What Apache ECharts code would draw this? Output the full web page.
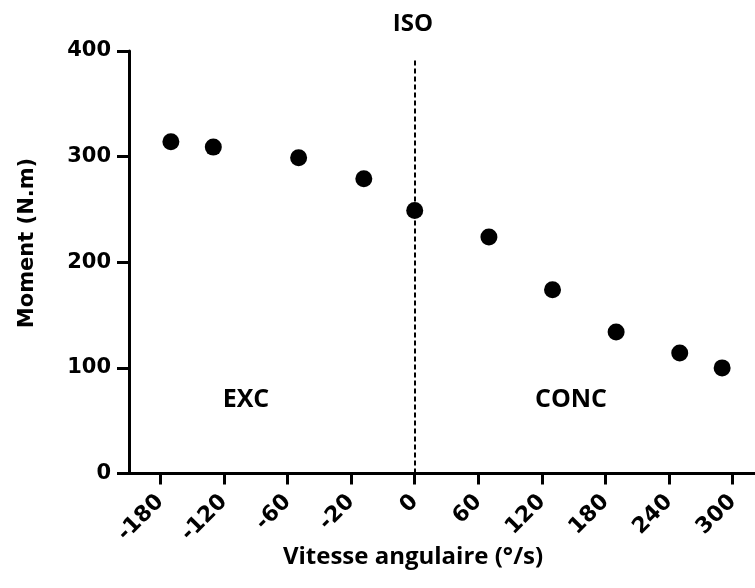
<!DOCTYPE html>
<html>
<head>
<meta charset="utf-8">
<script src="https://cdn.jsdelivr.net/npm/echarts@6/dist/echarts.min.js"></script>
<style>html,body{margin:0;padding:0;background:#fff}#c{width:755px;height:588px}</style>
</head>
<body>
<div id="c"></div>
<script>
// Tick labels of the (non-linear) velocity axis, equally spaced
const tickLabels = [-180, -120, -60, -20, 0, 60, 120, 180, 240, 300];
// Data
const velocity = [-170, -130, -53, -16, 0, 70, 130, 190, 250, 290];
const moment = [314, 309, 299, 279, 249, 224, 174, 134, 114, 100];

// Map a velocity onto the equally spaced tick index scale
function toAxis(v) {
  for (let i = 0; i < tickLabels.length - 1; i++) {
    const a = tickLabels[i], b = tickLabels[i + 1];
    if (v >= a && v <= b) return i + (v - a) / (b - a);
  }
  return v < tickLabels[0] ? 0 : tickLabels.length - 1;
}
const points = velocity.map((v, i) => [toAxis(v), moment[i]]);
const tickIdx = tickLabels.map((_, i) => i);
const zeroPos = toAxis(0);

const chart = echarts.init(document.getElementById('c'), null, {renderer: 'canvas'});
const calibri = '"Open Sans", Lato, sans-serif';
const arial = '"DejaVu Sans", sans-serif';
chart.setOption({
  animation: false,
  backgroundColor: '#fff',
  grid: {left: 129, right: 0, top: 51, bottom: 114.5, containLabel: false},
  xAxis: {
    type: 'value', min: -0.492, max: 9.35,
    splitLine: {show: false},
    axisLine: {show: true, onZero: false, lineStyle: {color: '#000', width: 3}},
    axisTick: {show: true, customValues: tickIdx, length: 11, lineStyle: {color: '#000', width: 3}},
    axisLabel: {
      customValues: tickIdx, rotate: 45, margin: 25,
      formatter: v => String(tickLabels[Math.round(v)]),
      color: '#000', fontFamily: arial, fontWeight: 'bold', fontSize: 22
    }
  },
  yAxis: {
    type: 'value', min: 0, max: 400, interval: 100,
    splitLine: {show: false},
    axisLine: {show: true, onZero: false, lineStyle: {color: '#000', width: 3}},
    axisTick: {show: true, length: 12, lineStyle: {color: '#000', width: 3}},
    axisLabel: {margin: 18, color: '#000', fontFamily: arial, fontWeight: 'bold', fontSize: 21}
  },
  graphic: [
    {type: 'text', style: {text: 'ISO', x: 413, y: 24, align: 'center', verticalAlign: 'middle', font: 'bold 24px ' + calibri, fill: '#000'}},
    {type: 'text', style: {text: 'EXC', x: 246, y: 400, align: 'center', verticalAlign: 'middle', font: 'bold 25px ' + calibri, fill: '#000'}},
    {type: 'text', style: {text: 'CONC', x: 571, y: 400, align: 'center', verticalAlign: 'middle', font: 'bold 25px ' + calibri, fill: '#000'}},
    {type: 'text', style: {text: 'Vitesse angulaire (°/s)', x: 413, y: 557, align: 'center', verticalAlign: 'middle', font: 'bold 24px ' + calibri, fill: '#000'}},
    {type: 'text', x: 28, y: 243, rotation: Math.PI / 2, style: {text: 'Moment (N.m)', x: 0, y: 0, align: 'center', verticalAlign: 'middle', font: 'bold 21px ' + arial, fill: '#000'}}
  ],
  series: [{
    type: 'scatter',
    data: points,
    symbol: 'circle',
    symbolSize: 17,
    itemStyle: {color: '#000', opacity: 1},
    z: 5,
    markLine: {
      silent: true, symbol: 'none', label: {show: false},
      lineStyle: {color: '#000', type: [5, 3], width: 2},
      data: [[{coord: [zeroPos, 0]}, {coord: [zeroPos, 393]}]]
    }
  }]
});
</script>
</body>
</html>
